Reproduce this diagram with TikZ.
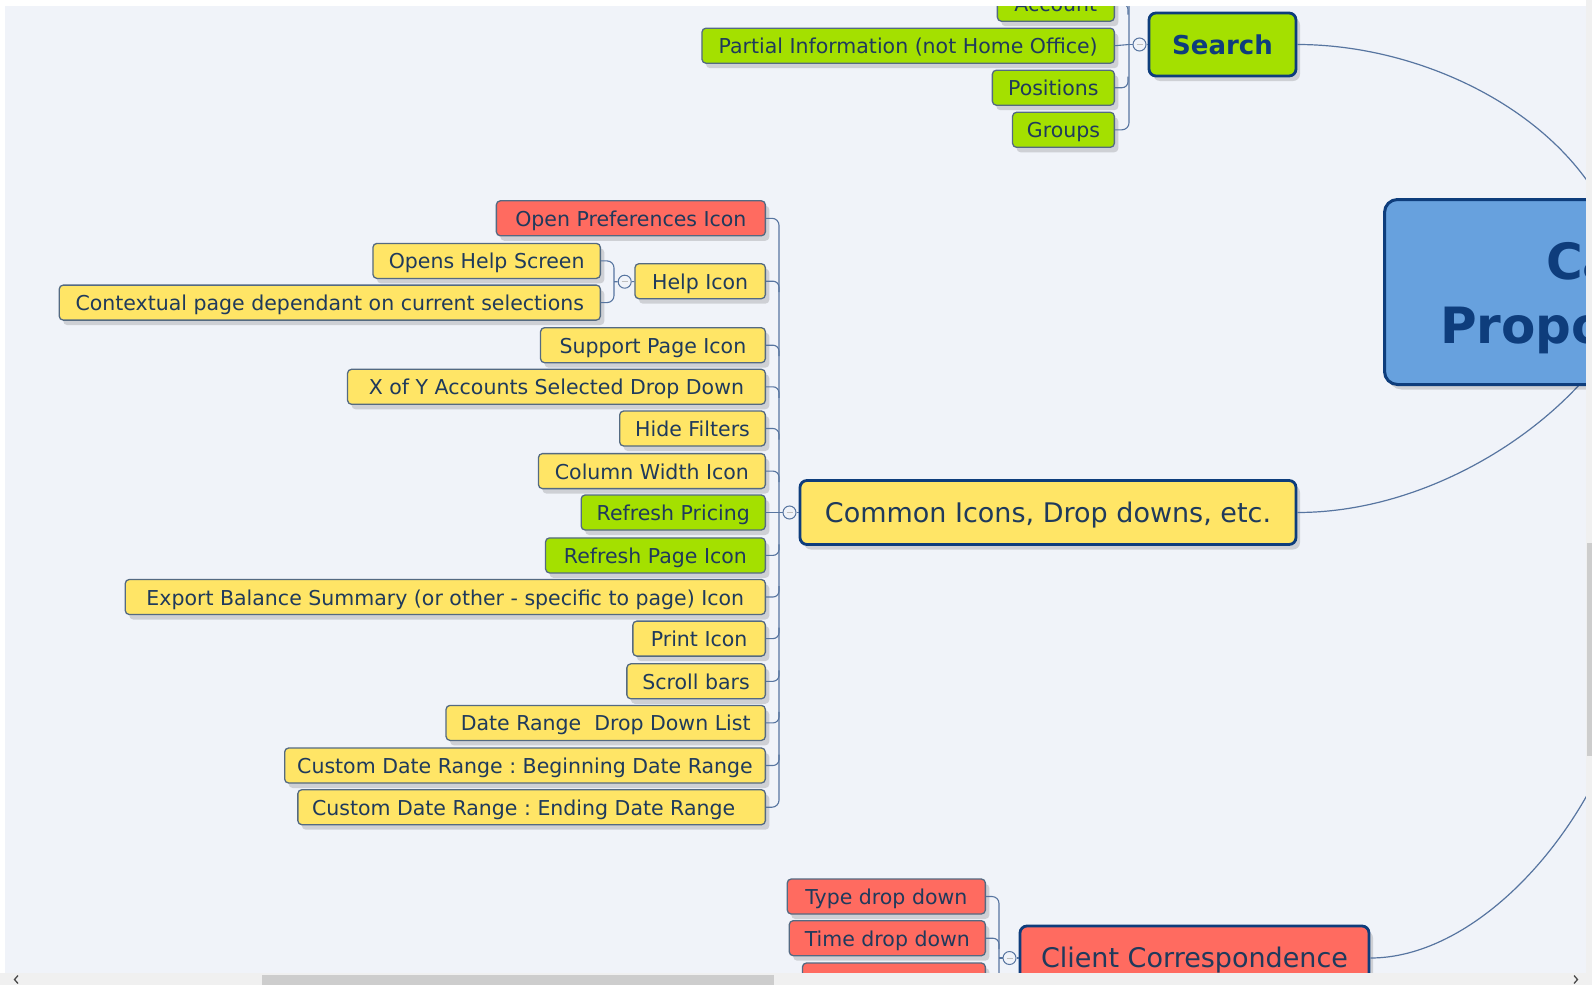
\documentclass[tikz,border=0pt]{standalone}
\usepackage{fontspec}
\setmainfont{DejaVu Sans}
\usetikzlibrary{shadows}
\definecolor{bgc}{HTML}{F0F3F9}
\definecolor{yelc}{HTML}{FFE566}
\definecolor{grnc}{HTML}{A4E000}
\definecolor{redc}{HTML}{FF6B60}
\definecolor{bluc}{HTML}{67A1DE}
\definecolor{navyc}{HTML}{0E3D7C}
\definecolor{edgec}{HTML}{546A82}
\definecolor{txtc}{HTML}{1F3A5C}
\definecolor{cnc}{HTML}{5775A0}
\definecolor{sbtrack}{HTML}{F0F0F0}
\definecolor{sbthumb}{HTML}{CDCDCD}
\tikzset{
 shad/.style={drop shadow={shadow xshift=4pt, shadow yshift=-5pt, opacity=0.14, fill=black}},
 sub/.style={draw=edgec, line width=1.3pt, rounded corners=4pt, inner xsep=12pt, inner ysep=0pt,
   minimum height=35pt, text height=16pt, text depth=0pt, font=\fontsize{20.5}{24}\selectfont,
   text=txtc, anchor=east, shad},
 ysub/.style={sub, fill=yelc},
 gsub/.style={sub, fill=grnc},
 rsub/.style={sub, fill=redc},
 bw/.style={minimum width=#1},
 topic/.style={draw=navyc, line width=2.8pt, rounded corners=7pt, inner sep=0pt, text=txtc,
   text height=20pt, text depth=0.5pt, shad},
 cn/.style={draw=cnc, line width=1.1pt},
 cv/.style={draw=cnc, line width=1.2pt},
 knob/.style={circle, draw=cnc, fill=bgc, line width=1pt, minimum size=13pt, inner sep=0pt},
 knobmark/.style={draw=gray!50, line width=0.8pt},
}
\begin{document}
\frenchspacing
\begin{tikzpicture}[x=1pt,y=-1pt]
\useasboundingbox (0,0) rectangle (1592,985);
\fill[white] (0,0) rectangle (1592,985);
\begin{scope}
\clip (5,6) rectangle (1586,973);
\fill[bgc] (0,0) rectangle (1592,985);

% ---------- curve end coordinates ----------
\coordinate (cA) at (1610,220);
\coordinate (cB) at (1600,360);
\coordinate (cC) at (1605,760);

% ---------- main topics ----------
\node[topic, fill=grnc, minimum width=147pt, minimum height=63pt, text height=19pt, text depth=0pt,
      font=\bfseries\fontsize{26}{31}\selectfont, text=navyc] (search) at (1222.5,44.5) {Search};
\node[topic, fill=yelc, minimum width=496pt, minimum height=64pt,
      font=\fontsize{27}{32}\selectfont] (common) at (1048,512.5) {Common Icons, Drop downs, etc.};
\node[topic, fill=redc, minimum width=349pt, minimum height=64pt,
      font=\fontsize{27}{32}\selectfont] (client) at (1194.5,958) {Client Correspondence};

% ---------- curves to central topic ----------
\draw[cv] (search.east) .. controls (1420,44.5) and (1560,110) .. (cA);
\draw[cv] (common.east) .. controls (1420,512.5) and (1540,440) .. (cB);
\draw[cv] (client.east) .. controls (1460,958) and (1555,870) .. (cC);

% ---------- central topic ----------
\node[draw=navyc, line width=3pt, rounded corners=13pt, fill=bluc, minimum width=420pt,
      minimum height=185pt, anchor=north west, shad] (central) at (1383,198) {};
\node[anchor=base west, inner sep=0pt, font=\bfseries\fontsize{50}{60}\selectfont, text=navyc] (ct1) at (1546,279) {Ca};
\node[anchor=base west, inner sep=0pt, font=\bfseries\fontsize{50}{60}\selectfont, text=navyc] (ct2) at (1440,343) {Propo};

% ---------- Search children ----------
\node[gsub, bw=117pt] (s1) at (1115,3.7) {Account};
\node[gsub, bw=412.4pt] (s2) at (1115,45.7) {Partial Information (not Home Office)};
\node[gsub, bw=122pt] (s3) at (1115,87.7) {Positions};
\node[gsub, bw=101.8pt] (s4) at (1115,129.8) {Groups};
\node[knob] (sk) at (1139.5,44.5) {};
\draw[knobmark] ([xshift=-3pt]sk.center) -- ([xshift=3pt]sk.center);
\coordinate (sbt) at (1129,-20);
\coordinate (sbm) at (1129,44.5);
\draw[cn, rounded corners=7pt] (sbt) -- ++(0,149.8) -- (s4.east);
\draw[cn, rounded corners=6pt] (s1.east) -| ++(13,11);
\draw[cn] (s2.east) -- (sbm);
\draw[cn, rounded corners=6pt] (s3.east) -| ++(13,-11);
\draw[cn] (sbm) -- (sk) -- (search);

% ---------- Common children ----------
\node[rsub, bw=269pt] (c1) at (766,218.3) {Open Preferences Icon};
\node[ysub, bw=130.4pt] (c2) at (766,281.2) {Help Icon};
\node[ysub, bw=224.8pt] (c3) at (766,345.2) {Support Page Icon};
\node[ysub, bw=417.8pt] (c4) at (766,386.8) {X of Y Accounts Selected Drop Down};
\node[ysub, bw=145.7pt] (c5) at (766,428.5) {Hide Filters};
\node[ysub, bw=226.9pt] (c6) at (766,471.1) {Column Width Icon};
\node[gsub, bw=184.2pt] (c7) at (766,512.5) {Refresh Pricing};
\node[gsub, bw=219.8pt] (c8) at (766,555.4) {Refresh Page Icon};
\node[ysub, bw=640.1pt] (c9) at (766,597.0) {Export Balance Summary (or other - specific to page) Icon};
\node[ysub, bw=132.5pt] (c10) at (766,638.6) {Print Icon};
\node[ysub, bw=138.5pt] (c11) at (766,681.3) {Scroll bars};
\node[ysub, bw=319.3pt] (c12) at (766,722.9) {Date Range\ \ Drop Down List};
\node[ysub, bw=480.7pt] (c13) at (766,765.5) {Custom Date Range : Beginning Date Range};
\node[ysub, bw=467.5pt] (c14) at (766,807.2) {Custom Date Range : Ending Date Range\hspace*{16pt}};
\node[knob] (ck) at (789.5,512.5) {};
\draw[knobmark] ([xshift=-3pt]ck.center) -- ([xshift=3pt]ck.center);
\draw[cn, rounded corners=7pt] (c1.east) -- ++(13,0) -- ++(0,588.9) -- (c14.east);
\foreach \n in {c2,c3,c4,c5,c6}{\draw[cn, rounded corners=6pt] (\n.east) -| ++(13,11);}
\foreach \n in {c8,c9,c10,c11,c12,c13}{\draw[cn, rounded corners=6pt] (\n.east) -| ++(13,-11);}
\draw[cn] (c7.east) -- (ck) -- (common);

% ---------- Help children ----------
\node[ysub, bw=227.4pt] (h1) at (601,260.9) {Opens Help Screen};
\node[ysub, bw=541.1pt] (h2) at (601,302.6) {Contextual page dependant on current selections};
\node[knob] (hk) at (624.7,281.7) {};
\draw[knobmark] ([xshift=-3pt]hk.center) -- ([xshift=3pt]hk.center);
\coordinate (hbm) at (614,281.7);
\draw[cn, rounded corners=7pt] (h1.east) -- ++(13,0) -- ++(0,41.7) -- (h2.east);
\draw[cn] (hbm) -- (hk) -- (c2);

% ---------- Client children ----------
\node[rsub, bw=198.1pt] (k1) at (986,896.5) {Type drop down};
\node[rsub, bw=196.1pt] (k2) at (986,938.2) {Time drop down};
\node[rsub, bw=182.9pt] (k3) at (986,980.5) {};
\node[knob] (kk) at (1009.5,958) {};
\draw[knobmark] ([xshift=-3pt]kk.center) -- ([xshift=3pt]kk.center);
\coordinate (kbm) at (999,958);
\draw[cn, rounded corners=7pt] (k1.east) -- ++(13,0) -- ++(0,84) -- (k3.east);
\draw[cn, rounded corners=6pt] (k2.east) -| ++(13,11);
\draw[cn] (kbm) -- (kk) -- (client);
\end{scope}

% ---------- scrollbars ----------
\fill[sbtrack] (0,973) rectangle (1592,985);
\fill[sbthumb] (262,975) rectangle (774,985);
\draw[line width=1.3pt, black!70] (18,975.5) -- (14.5,979.5) -- (18,983.5);
\draw[line width=1.3pt, black!70] (1574,975.5) -- (1577.5,979.5) -- (1574,983.5);
\fill[sbtrack] (1586,0) rectangle (1592,973);
\fill[sbthumb] (1587,543) rectangle (1592,756);
\end{tikzpicture}
\end{document}
